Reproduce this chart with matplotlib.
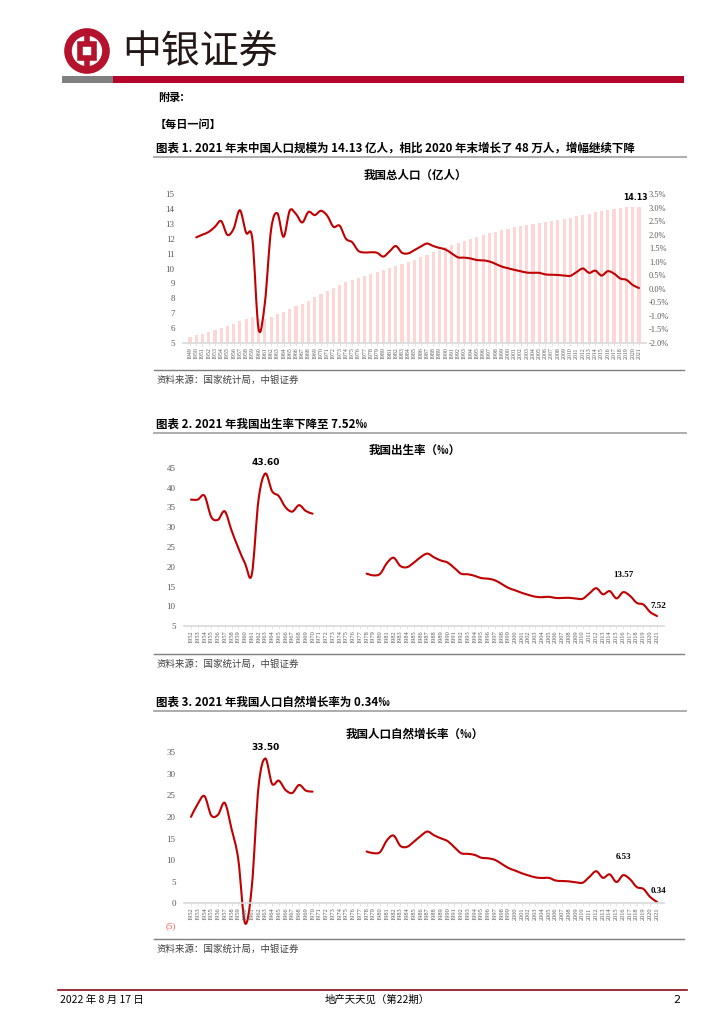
import numpy as np
import matplotlib
matplotlib.use("Agg")
import matplotlib.pyplot as plt
from matplotlib.path import Path
from matplotlib.patches import PathPatch, Circle, Rectangle

W, H = 725, 1024
CJK = ["Noto Sans CJK SC", "DejaVu Sans"]
SERIF = "Liberation Serif"
RED = "#C00000"
GREY_TXT = "#595959"

# ---- 数据 ----
years_pop = list(range(1949, 2022))
population = [5.42, 5.52, 5.63, 5.75, 5.88, 6.03, 6.15, 6.28, 6.47, 6.60,
              6.72, 6.62, 6.59, 6.73, 6.92, 7.05, 7.25, 7.45, 7.64, 7.85,
              8.07, 8.30, 8.52, 8.72, 8.92, 9.09, 9.24, 9.37, 9.50, 9.63,
              9.75, 9.87, 10.01, 10.17, 10.30, 10.44, 10.59, 10.75, 10.93, 11.10,
              11.27, 11.43, 11.58, 11.72, 11.85, 11.99, 12.11, 12.24, 12.36, 12.48,
              12.58, 12.67, 12.76, 12.85, 12.92, 13.00, 13.08, 13.14, 13.21, 13.28,
              13.35, 13.41, 13.49, 13.59, 13.67, 13.76, 13.83, 13.92, 14.00, 14.05,
              14.10, 14.12, 14.13]
# 总人口同比增速(%), 1950 起
years_growth = list(range(1950, 2022))
pop_growth = [1.90, 2.00, 2.10, 2.29, 2.50, 1.99, 2.22, 2.90, 2.07, 1.84,
              -1.49, -0.53, 2.18, 2.79, 1.92, 2.89, 2.76, 2.45, 2.84, 2.72,
              2.88, 2.70, 2.29, 2.33, 1.85, 1.72, 1.40, 1.34, 1.35, 1.33,
              1.19, 1.38, 1.58, 1.33, 1.31, 1.43, 1.56, 1.67, 1.58, 1.51,
              1.45, 1.30, 1.16, 1.15, 1.12, 1.06, 1.05, 1.01, 0.92, 0.82,
              0.76, 0.70, 0.65, 0.60, 0.59, 0.59, 0.53, 0.52, 0.51, 0.49,
              0.48, 0.62, 0.75, 0.59, 0.67, 0.49, 0.65, 0.56, 0.38, 0.33,
              0.14, 0.03]

years_rate = list(range(1952, 2022))
NA = np.nan
birth_rate = [37.00, 37.00, 37.97, 32.60, 31.90, 34.03, 29.22, 24.78, 20.86, 18.02,
              37.01, 43.60, 39.14, 37.88, 35.05, 33.96, 35.59, 34.11, 33.43,
              NA, NA, NA, NA, NA, NA, NA,
              18.25, 17.82, 18.21, 20.91, 22.28, 20.19, 19.90, 21.04, 22.43, 23.33,
              22.37, 21.58, 21.06, 19.68, 18.24, 18.09, 17.70, 17.12, 16.98, 16.57,
              15.64, 14.64, 14.03, 13.38, 12.86, 12.41, 12.29, 12.40, 12.09, 12.10,
              12.14, 11.95, 11.90, 13.27, 14.57, 13.03, 13.83, 11.99, 13.57, 12.64,
              10.86, 10.41, 8.52, 7.52]
natural_growth = [20.00, 23.00, 24.79, 20.32, 20.50, 23.23, 17.24, 10.19, -4.57, 3.78,
                  26.99, 33.50, 27.64, 28.38, 26.22, 25.53, 27.38, 26.08, 25.83,
                  NA, NA, NA, NA, NA, NA, NA,
                  12.00, 11.61, 11.87, 14.55, 15.68, 13.29, 13.08, 14.26, 15.57, 16.61,
                  15.73, 15.04, 14.39, 12.98, 11.60, 11.45, 11.21, 10.55, 10.42, 10.06,
                  9.14, 8.18, 7.58, 6.95, 6.45, 6.01, 5.87, 5.89, 5.28, 5.17,
                  5.08, 4.87, 4.79, 6.13, 7.43, 5.90, 6.71, 4.93, 6.53, 5.58,
                  3.78, 3.32, 1.45, 0.34]

fig = plt.figure(figsize=(W / 100, H / 100), dpi=100)

# 页面底层: 像素坐标
bg = fig.add_axes([0, 0, 1, 1])
bg.set_xlim(0, W); bg.set_ylim(H, 0); bg.axis("off")


def ax_px(x0, y0, x1, y1):
    return fig.add_axes([x0 / W, 1 - y1 / H, (x1 - x0) / W, (y1 - y0) / H])


def smooth_path(xs, ys):
    """Excel 式平滑线: 每段 NaN 之间用三次 Bezier 穿过各数据点."""
    segs, cur = [], []
    for x, y in zip(xs, ys):
        if np.isnan(y):
            if cur:
                segs.append(cur); cur = []
        else:
            cur.append((x, y))
    if cur:
        segs.append(cur)
    verts, codes = [], []
    for seg in segs:
        p = np.array(seg, float)
        n = len(p)
        verts.append(p[0]); codes.append(Path.MOVETO)
        for i in range(n - 1):
            p0 = p[i - 1] if i > 0 else p[i]
            p3 = p[i + 2] if i + 2 < n else p[i + 1]
            verts += [p[i] + (p[i + 1] - p0) / 6, p[i + 1] - (p3 - p[i]) / 6, p[i + 1]]
            codes += [Path.CURVE4] * 3
    return Path(verts, codes)


def add_line(ax, xs, ys):
    ax.add_patch(PathPatch(smooth_path(xs, ys), fill=False, edgecolor=RED,
                           lw=1.5, capstyle="round", joinstyle="round",
                           transform=ax.transData))


def style_axes(ax, labels, fs):
    for s in ("top", "right", "left"):
        ax.spines[s].set_visible(False)
    ax.spines["bottom"].set_color("#D9D9D9")
    ax.spines["bottom"].set_linewidth(1.2)
    ax.set_xticks(range(len(labels)))
    ax.set_xticklabels([str(v) for v in labels], rotation=90, fontsize=fs,
                       family=SERIF, color=GREY_TXT)
    ax.tick_params(axis="x", length=2, width=0.5, color="#D9D9D9", pad=1)
    ax.tick_params(axis="y", length=0, pad=6, labelsize=6.5, labelcolor=GREY_TXT)
    for t in ax.get_yticklabels():
        t.set_family(SERIF)
    ax.patch.set_alpha(0)


# ---- 页眉 ----
logo_red = "#B5122D"
bg.add_patch(Circle((87, 51), 19, fill=False, ec=logo_red, lw=5.5))
bg.add_patch(Rectangle((80, 44), 14, 14, fill=False, ec=logo_red, lw=4))
bg.plot([87, 87], [33, 44], color=logo_red, lw=4, solid_capstyle="butt")
bg.plot([87, 87], [58, 69], color=logo_red, lw=4, solid_capstyle="butt")
bg.text(122, 53, "中银证券", fontsize=28, family=CJK, color="#231815",
        va="center", ha="left")
bg.add_patch(Rectangle((62, 76), 51, 7, color="#808080", lw=0))
bg.add_patch(Rectangle((113, 76), 571, 7, color="#B4062A", lw=0))
bg.text(158, 97, "附录:", fontsize=8, family=CJK, weight="bold", va="center")
bg.text(155, 124, "【每日一问】", fontsize=8, family=CJK, weight="bold", va="center")

# ---- 图表标题与来源 ----
headings = [(148, "图表 1. 2021 年末中国人口规模为 14.13 亿人，相比 2020 年末增长了 48 万人，增幅继续下降"),
            (424, "图表 2. 2021 年我国出生率下降至 7.52‰"),
            (702, "图表 3. 2021 年我国人口自然增长率为 0.34‰")]
for y, s in headings:
    bg.text(156, y, s, fontsize=8.3, family=CJK, weight="bold", va="center")
    bg.plot([154, 686], [y + 9, y + 9], color="#A6A6A6", lw=1.3)

sources = [370, 654, 939]
for y in sources:
    bg.plot([154, 684], [y, y], color="#7F7F7F", lw=1.0)
    bg.text(157, y + 10, "资料来源：国家统计局，中银证券", fontsize=6.8, family=CJK,
            color="#404040", va="center", style="italic")

chart_titles = [(175, "我国总人口（亿人）"), (450, "我国出生率（‰）"),
                (734, "我国人口自然增长率（‰）")]
for y, s in chart_titles:
    bg.text(415, y, s, fontsize=8.3, family=CJK, weight="bold", ha="center",
            va="center")

# ---- 图 1: 总人口 + 同比增速 ----
sp1 = 6.236
ax1 = ax_px(183, 194, 646, 343)
x_pop = np.arange(len(years_pop))
ax1.bar(x_pop, population, width=0.5, color="#FFD6D6", zorder=1)
ax1.set_xlim(-(190 - 183) / sp1, 72 + (646 - 639) / sp1)
ax1.set_ylim(5, 15)
ax1.set_yticks(range(5, 16))
style_axes(ax1, years_pop, 4.2)
ax1.text(x_pop[-1] - 0.5, population[-1] + 0.3, f"{population[-1]:.2f}", fontsize=5.6,
         weight="bold", ha="center", va="bottom")
ax1b = ax1.twinx()
ax1b.set_ylim(-2.0, 3.5)
rt = np.arange(-2.0, 3.51, 0.5)
ax1b.set_yticks(rt)
ax1b.set_yticklabels([f"{v:.1f}%" for v in rt], family=SERIF, fontsize=6,
                     color=GREY_TXT)
ax1b.tick_params(axis="y", length=0, pad=2)
for s in ("top", "right", "left", "bottom"):
    ax1b.spines[s].set_visible(False)
x_g = np.array([years_pop.index(y) for y in years_growth])
add_line(ax1b, x_g, pop_growth)

# ---- 图 2 / 图 3 ----
sp2 = 6.754
x_rate = np.arange(len(years_rate))

ax2 = ax_px(184, 468, 664, 626)
ax2.set_xlim(-(191 - 184) / sp2, 69 + (664 - 657) / sp2)
ax2.set_ylim(5, 45)
ax2.set_yticks(range(5, 46, 5))
style_axes(ax2, years_rate, 4.6)
add_line(ax2, x_rate, birth_rate)
i63 = years_rate.index(1963)
ax2.text(i63, birth_rate[i63] + 1.6, f"{birth_rate[i63]:.2f}", fontsize=6.5,
         weight="bold", ha="center", va="bottom")
i16 = years_rate.index(2016)
ax2.text(i16, birth_rate[i16] + 3.3, f"{birth_rate[i16]:.2f}", fontsize=6.5,
         weight="bold", ha="center", va="bottom", family=SERIF)
ax2.text(x_rate[-1] + 0.2, birth_rate[-1] + 1.6, f"{birth_rate[-1]:.2f}",
         fontsize=6.5, weight="bold", ha="center", va="bottom", family=SERIF)

ax3 = ax_px(184, 752, 664, 925)
ax3.spines["bottom"].set_position(("data", 0))
ax3.set_xlim(-(191 - 184) / sp2, 69 + (664 - 657) / sp2)
ax3.set_ylim(-5, 35)
ax3.set_yticks(range(-5, 36, 5))
ax3.set_yticklabels(["(5)"] + [str(v) for v in range(0, 36, 5)])
style_axes(ax3, years_rate, 4.6)
ax3.get_yticklabels()[0].set_color("#FF4D4D")
add_line(ax3, x_rate, natural_growth)
ax3.text(i63, natural_growth[i63] + 1.6, f"{natural_growth[i63]:.2f}", fontsize=6.5,
         weight="bold", ha="center", va="bottom")
ax3.text(i16, natural_growth[i16] + 3.3, f"{natural_growth[i16]:.2f}", fontsize=6.5,
         weight="bold", ha="center", va="bottom", family=SERIF)
ax3.text(x_rate[-1] + 0.2, natural_growth[-1] + 1.6, f"{natural_growth[-1]:.2f}",
         fontsize=6.5, weight="bold", ha="center", va="bottom", family=SERIF)

# ---- 页脚 ----
bg.plot([58, 687], [990, 990], color="#8B0A1F", lw=1.2)
bg.text(60, 1000, "2022 年 8 月 17 日", fontsize=7.5, family=CJK, va="center")
bg.text(377, 1000, "地产天天见（第22期）", fontsize=7.5, family=CJK, va="center",
        ha="center")
bg.text(680, 1000, "2", fontsize=8, va="center", ha="right")

fig.savefig("out.png", dpi=100)
